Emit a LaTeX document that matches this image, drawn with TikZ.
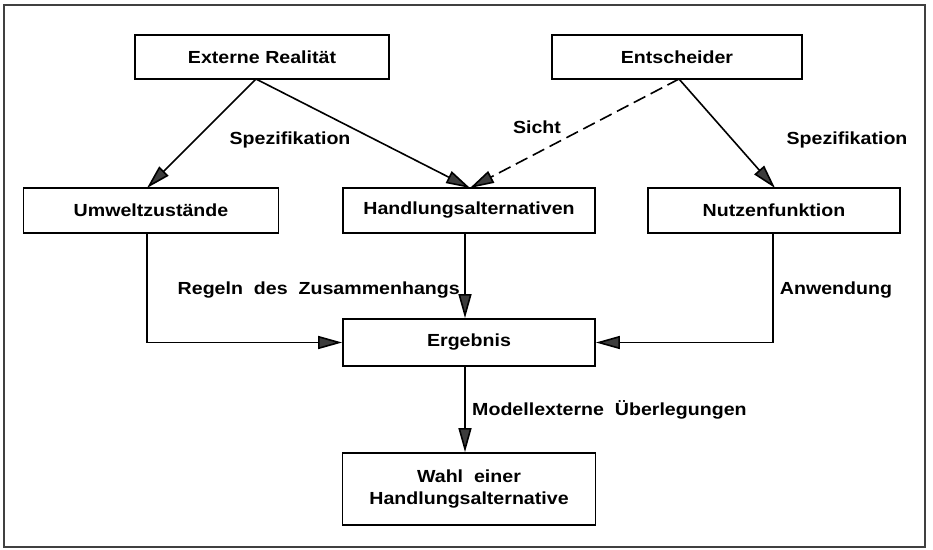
\documentclass[tikz,border=0pt]{standalone}
\usepackage{fontspec}
\setmainfont{Liberation Sans}[FakeStretch=1.12]
\usetikzlibrary{arrows.meta}
\definecolor{tipgray}{RGB}{60,60,60}
\tikzset{
  lbl/.style={font=\fontsize{17.5}{22}\selectfont\bfseries, inner sep=0pt},
  box/.style={draw, line width=1.8pt, inner sep=0pt, align=center,
              font=\fontsize{17.5}{22}\selectfont\bfseries},
  arr/.style={line width=1.6pt, -{Triangle[length=24pt,width=13pt,fill=tipgray]}},
}
\begin{document}
\begin{tikzpicture}[x=1pt,y=-1pt]
\useasboundingbox (0,0) rectangle (933,549);
\draw[line width=1.2pt, black!75] (4,5) rectangle (925,547);

\node[box, minimum width=254pt, minimum height=44pt] (ext) at (262,57) {Externe\ Realität};
\node[box, minimum width=250pt, minimum height=44pt] (ent) at (677,57) {Entscheider};
\node[box, minimum width=255pt, minimum height=45pt] (umw) at (151,210.5) {Umweltzustände};
\node[box, minimum width=252pt, minimum height=45pt] (hand) at (469,210.5) {Handlungsalternativen};
\node[box, minimum width=252pt, minimum height=45pt] (nutz) at (774,210.5) {Nutzenfunktion};
\node[box, minimum width=252pt, minimum height=47pt] (erg) at (469,342.5) {Ergebnis};
\node[box, minimum width=253pt, minimum height=72pt] (wahl) at (469,489) {Wahl\ \ einer\\Handlungsalternative};

\coordinate (extb) at (256,79);
\coordinate (entb) at (679,79);
\coordinate (umwt) at (147,188);
\coordinate (handt) at (470,188);
\coordinate (nutzt) at (775,188);

\draw[arr] (extb) -- (umwt);
\draw[arr] (extb) -- (handt);
\draw[arr, dash pattern=on 13pt off 6pt] (entb) -- (handt);
\draw[arr] (entb) -- (nutzt);

\draw[arr] (umw.south -| 147,0) |- (erg.west);
\draw[arr] (hand.south -| 465,0) -- (erg.north -| 465,0);
\draw[arr] (nutz.south -| 773,0) |- (erg.east);
\draw[arr] (erg.south -| 465,0) -- (wahl.north -| 465,0);

\node[lbl] (l1) at (290,140) {Spezifikation};
\node[lbl] (l2) at (537,127) {Sicht};
\node[lbl] (l3) at (847,140) {Spezifikation};
\node[lbl, anchor=east] (l4) at (460,290) {Regeln\ \ des\ \ Zusammenhangs};
\node[lbl] (l5) at (836,290) {Anwendung};
\node[lbl, anchor=west] (l6) at (472,410) {Modellexterne\ \ Überlegungen};
\end{tikzpicture}
\end{document}
